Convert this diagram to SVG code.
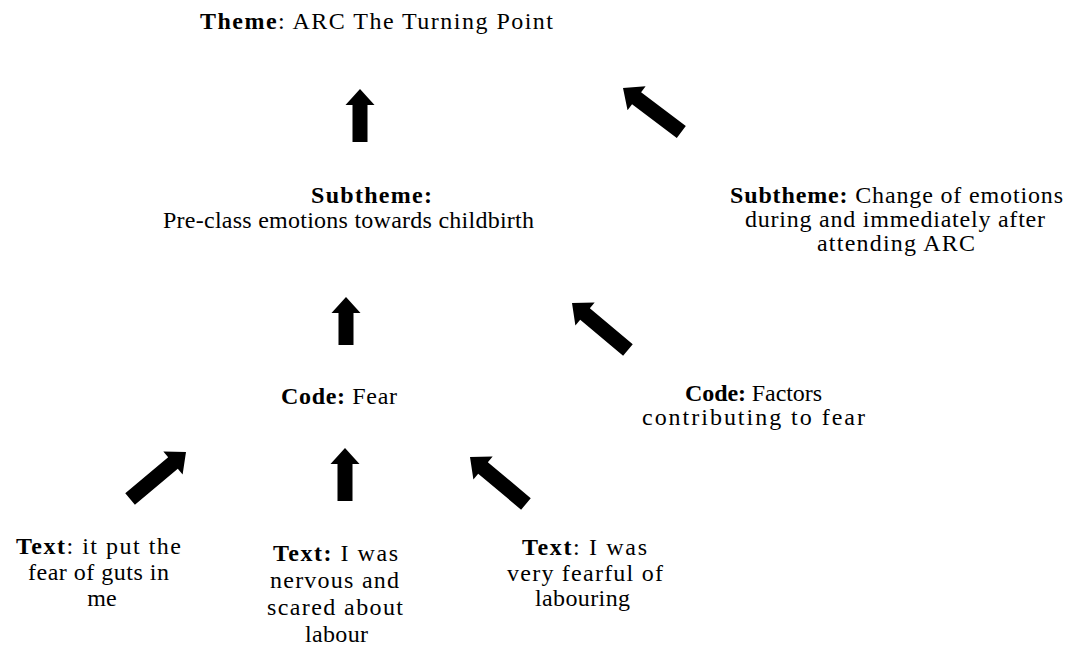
<svg xmlns="http://www.w3.org/2000/svg" width="1077" height="660" viewBox="0 0 1077 660">
  <style>
    text { font-family: "Liberation Serif", "Times New Roman", serif; font-size: 24px; fill: #000; }
    .b { font-weight: bold; }
    .arrow { fill: #000; }
  </style>
  <defs>
    <!-- block arrow pointing up, tip at the origin -->
    <path id="arrow53" d="M0,0 L14.5,16 L7.5,16 L7.5,53 L-7.5,53 L-7.5,16 L-14.5,16 Z"/>
    <path id="arrow48" d="M0,0 L14.5,16 L7.5,16 L7.5,48 L-7.5,48 L-7.5,16 L-14.5,16 Z"/>
    <path id="arrow73" d="M0,0 L15,17 L7.5,17 L7.5,73 L-7.5,73 L-7.5,17 L-15,17 Z"/>
  </defs>

  <rect width="1077" height="660" fill="#fff"/>

  <g id="theme">
    <text x="200" y="29" textLength="353" lengthAdjust="spacing"><tspan class="b">Theme</tspan>: ARC The Turning Point</text>
  </g>

  <g id="subtheme-preclass">
    <text x="311" y="203" textLength="121" lengthAdjust="spacing" class="b">Subtheme:</text>
    <text x="163" y="228" textLength="371" lengthAdjust="spacing">Pre-class emotions towards childbirth</text>
  </g>

  <g id="subtheme-change">
    <text x="730" y="203" textLength="333" lengthAdjust="spacing"><tspan class="b">Subtheme:</tspan> Change of emotions</text>
    <text x="745" y="227" textLength="300" lengthAdjust="spacing">during and immediately after</text>
    <text x="817" y="251" textLength="158" lengthAdjust="spacing">attending ARC</text>
  </g>

  <g id="code-fear">
    <text x="281" y="404" textLength="116" lengthAdjust="spacing"><tspan class="b">Code:</tspan> Fear</text>
  </g>

  <g id="code-factors">
    <text x="685" y="401" textLength="137" lengthAdjust="spacing"><tspan class="b">Code:</tspan> Factors</text>
    <text x="642" y="425" textLength="223" lengthAdjust="spacing">contributing to fear</text>
  </g>

  <g id="text-guts">
    <text x="16" y="554" textLength="165" lengthAdjust="spacing"><tspan class="b">Text</tspan>: it put the</text>
    <text x="28" y="580" textLength="141" lengthAdjust="spacing">fear of guts in</text>
    <text x="102" y="606" text-anchor="middle">me</text>
  </g>

  <g id="text-nervous">
    <text x="273" y="561" textLength="125" lengthAdjust="spacing"><tspan class="b">Text:</tspan> I was</text>
    <text x="270" y="588" textLength="129" lengthAdjust="spacing">nervous and</text>
    <text x="267" y="615" textLength="136" lengthAdjust="spacing">scared about</text>
    <text x="305" y="642" textLength="63" lengthAdjust="spacing">labour</text>
  </g>

  <g id="text-fearful">
    <text x="522" y="555" textLength="125" lengthAdjust="spacing"><tspan class="b">Text</tspan>: I was</text>
    <text x="507" y="581" textLength="156" lengthAdjust="spacing">very fearful of</text>
    <text x="535" y="606" textLength="95" lengthAdjust="spacing">labouring</text>
  </g>

  <g id="connectors" class="arrow">
    <use href="#arrow53" transform="translate(360,89)"/>
    <use href="#arrow48" transform="translate(346,297)"/>
    <use href="#arrow53" transform="translate(345,448)"/>
    <use href="#arrow73" transform="translate(623,88) rotate(-53)"/>
    <use href="#arrow73" transform="translate(572,303) rotate(-50)"/>
    <use href="#arrow73" transform="translate(470,457) rotate(-50)"/>
    <use href="#arrow73" transform="translate(186,452) rotate(50)"/>
  </g>
</svg>
